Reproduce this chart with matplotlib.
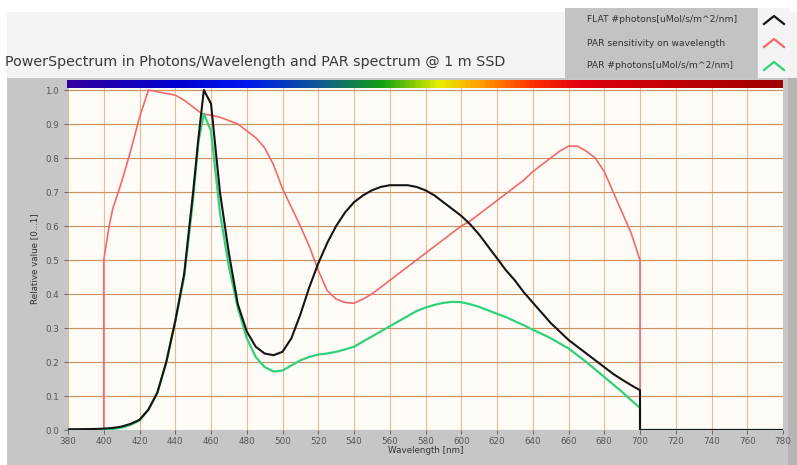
import numpy as np
import matplotlib
matplotlib.use("Agg")
import matplotlib.pyplot as plt
from matplotlib.colors import LinearSegmentedColormap

# wavelength grid for the measured part (nm)
wl = [380, 395, 400, 405, 410, 415, 420, 425, 430, 435, 440, 445, 450, 453, 456,
      460, 465, 470, 475, 480, 485, 490, 495, 500, 505, 510, 515, 520, 525, 530,
      535, 540, 545, 550, 555, 560, 565, 570, 575, 580, 585, 590, 595, 600, 605,
      610, 615, 620, 625, 630, 635, 640, 645, 650, 655, 660, 665, 670, 675, 680,
      685, 690, 695, 700, 700, 780]

# FLAT #photons
flat = [0.002, 0.003, 0.004, 0.006, 0.01, 0.018, 0.03, 0.06, 0.11, 0.2, 0.32, 0.46,
        0.7, 0.86, 1.0, 0.96, 0.7, 0.52, 0.37, 0.29, 0.245, 0.225, 0.22, 0.23, 0.27,
        0.34, 0.42, 0.49, 0.55, 0.6, 0.64, 0.67, 0.69, 0.705, 0.715, 0.72, 0.72, 0.72,
        0.715, 0.705, 0.69, 0.67, 0.65, 0.63, 0.605, 0.575, 0.54, 0.505, 0.47, 0.44,
        0.405, 0.375, 0.345, 0.315, 0.29, 0.265, 0.245, 0.225, 0.205, 0.185, 0.165,
        0.148, 0.132, 0.117, 0.0, 0.0]

# PAR #photons
par_ph = [0.0, 0.0, 0.0, 0.003, 0.007, 0.015, 0.028, 0.06, 0.11, 0.2, 0.32, 0.45,
          0.68, 0.85, 0.93, 0.88, 0.64, 0.48, 0.36, 0.27, 0.215, 0.185, 0.172, 0.175,
          0.19, 0.205, 0.215, 0.222, 0.225, 0.23, 0.237, 0.245, 0.26, 0.275, 0.29,
          0.305, 0.32, 0.335, 0.35, 0.36, 0.368, 0.374, 0.377, 0.376, 0.37, 0.362,
          0.352, 0.342, 0.332, 0.32, 0.308, 0.295, 0.283, 0.27, 0.255, 0.24, 0.22,
          0.2, 0.178, 0.156, 0.134, 0.112, 0.088, 0.065, 0.0, 0.0]

# PAR sensitivity (own grid, jumps at 400 and 700)
wl_sens = [380, 400, 400, 403, 405, 410, 415, 420, 425, 430, 435, 440, 445, 450, 455,
           460, 465, 470, 475, 480, 485, 490, 495, 500, 505, 510, 515, 520, 525,
           530, 535, 540, 545, 550, 555, 560, 565, 570, 575, 580, 585, 590, 595,
           600, 605, 610, 615, 620, 625, 630, 635, 640, 645, 650, 655, 660, 665,
           670, 675, 680, 685, 690, 695, 700, 700, 780]
par_sens = [0.0, 0.0, 0.5, 0.6, 0.65, 0.73, 0.82, 0.92, 1.0, 0.995, 0.99, 0.985, 0.97,
            0.95, 0.93, 0.926, 0.92, 0.91, 0.9, 0.88, 0.86, 0.83, 0.78, 0.71, 0.655,
            0.6, 0.54, 0.47, 0.41, 0.385, 0.375, 0.373, 0.385, 0.4, 0.42, 0.44, 0.46,
            0.48, 0.5, 0.52, 0.54, 0.56, 0.58, 0.6, 0.615, 0.635, 0.655, 0.675, 0.695,
            0.715, 0.735, 0.76, 0.78, 0.8, 0.82, 0.835, 0.835, 0.82, 0.8, 0.76, 0.7,
            0.64, 0.58, 0.5, 0.0, 0.0]

legend_labels = ["FLAT #photons[uMol/s/m^2/nm]",
                 "PAR sensitivity on wavelength",
                 "PAR #photons[uMol/s/m^2/nm]"]
line_colors = ["#151515", "#f06a6a", "#2fd27a"]
x_ticks = list(range(380, 781, 20))
y_ticks = [round(0.1 * i, 1) for i in range(11)]

W, H = 797, 465
fig = plt.figure(figsize=(W / 100, H / 100), dpi=100)
fig.patch.set_facecolor("white")


def plain(a, color):
    a.set_facecolor(color)
    a.set_xticks([])
    a.set_yticks([])
    for s in a.spines.values():
        s.set_visible(False)


# backgrounds: light title band and gray panel
plain(fig.add_axes([7 / W, 1 - 78 / H, 1 - 7 / W, 66 / H]), "#f3f3f3")
plain(fig.add_axes([7 / W, 0, 1 - 7 / W, 1 - 78 / H]), "#c6c6c6")
plain(fig.add_axes([788 / W, 0, 9 / W, 1 - 78 / H]), "#b4b4b4")

fig.text(5 / W, 1 - 62 / H, "PowerSpectrum in Photons/Wavelength and PAR spectrum @ 1 m SSD",
         fontsize=10.3, color="#3a3a3a", va="center", ha="left")

# legend box
leg = fig.add_axes([565 / W, 1 - 78 / H, 225 / W, 70 / H])
plain(leg, "#c3c3c3")
leg.set_xlim(0, 225)
leg.set_ylim(70, 0)
leg.add_patch(plt.Rectangle((193, 0), 32, 70, color="#f4f4f4", zorder=1))
for i, (lab, c) in enumerate(zip(legend_labels, line_colors)):
    yc = 12 + i * 23
    leg.text(22, yc, lab, fontsize=6.6, color="#333333", va="center", ha="left")
    leg.plot([199, 209, 219], [yc + 4, yc - 4, yc + 4], color=c, lw=1.6, zorder=2)

# main plot
ax = fig.add_axes([68 / W, 1 - 430 / H, 715 / W, 342 / H])
ax.set_facecolor("#fffbf7")
ax.plot(wl_sens, par_sens, color=line_colors[1], lw=1.2, zorder=3)
ax.plot(wl, par_ph, color=line_colors[2], lw=1.6, zorder=4)
ax.plot(wl, flat, color=line_colors[0], lw=1.5, zorder=5)
ax.set_xlim(380, 780)
ax.set_ylim(0, 1.006)
ax.set_xticks(x_ticks)
ax.set_yticks(y_ticks)
ax.set_yticklabels([f"{v:.1f}" for v in y_ticks])
ax.tick_params(axis="both", labelsize=6.3, colors="#555555", length=3, width=0.6)
ax.tick_params(axis="x", pad=2)
ax.grid(axis="x", color="#e6bc98", lw=0.8)
ax.grid(axis="y", color="#cc8f60", lw=0.8)
ax.set_axisbelow(True)
for s in ax.spines.values():
    s.set_visible(False)
ax.set_xlabel("Wavelength [nm]", fontsize=6.3, color="#333333", labelpad=0)
ax.set_ylabel("Relative value [0...1]", fontsize=6.3, color="#333333", labelpad=4)

# spectral colour bar above the plot
cbar = fig.add_axes([67 / W, 1 - 88 / H, 716 / W, 8 / H])
stops = [(0.0, "#3300a0"), (0.15, "#0000d0"), (0.25, "#0018f0"), (0.36, "#10608a"),
         (0.44, "#10a010"), (0.52, "#e8f000"), (0.58, "#ff9a00"), (0.65, "#ff3000"),
         (0.72, "#e00010"), (1.0, "#a00000")]
cmap = LinearSegmentedColormap.from_list("spec", stops)
cbar.imshow(np.linspace(0, 1, 400)[None, :], aspect="auto", cmap=cmap)
plain(cbar, "white")

fig.savefig("out.png", dpi=100)
